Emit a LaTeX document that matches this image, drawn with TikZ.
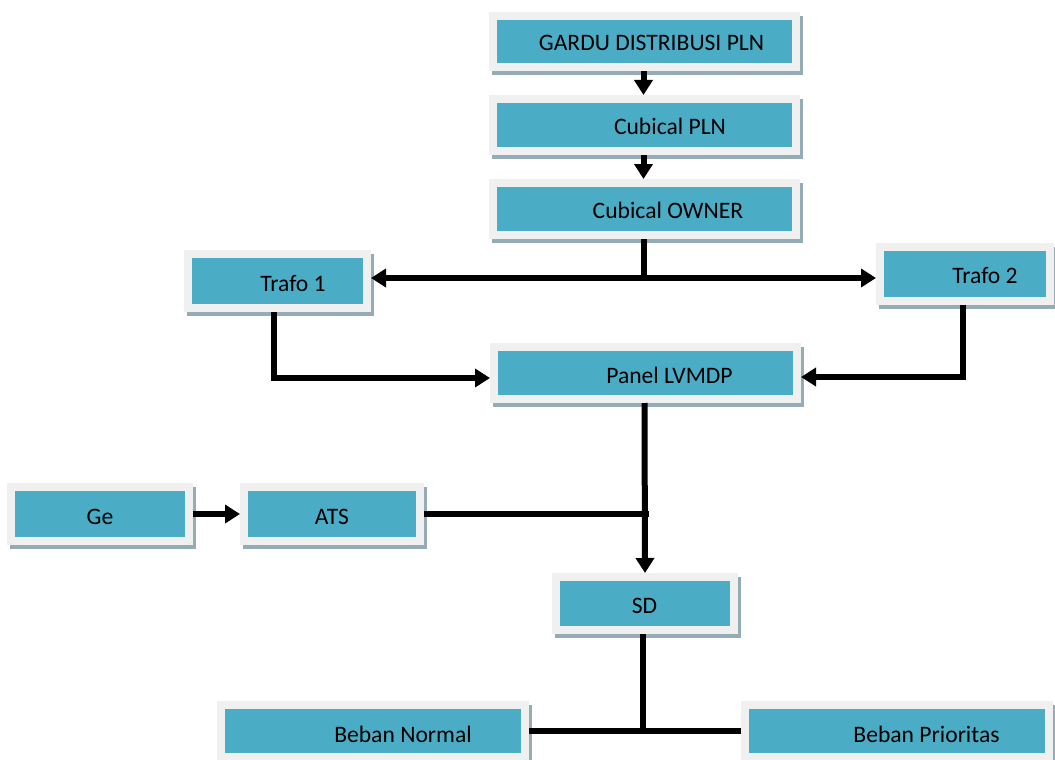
\documentclass[tikz,border=0pt]{standalone}
\usepackage{fontspec}
\setmainfont{Carlito}
\usetikzlibrary{arrows.meta}
\definecolor{tealbox}{HTML}{4AACC5}
\definecolor{framegray}{HTML}{F0F0F0}
\definecolor{shadowc}{HTML}{94ACB6}
\tikzset{
  box/.style={rectangle, inner sep=0pt, fill=tealbox, draw=framegray, line width=8pt,
    preaction={draw=shadowc, fill=shadowc, transform canvas={shift={(3pt,-4pt)}}}},
  lbl/.style={anchor=base, inner sep=0pt, font=\fontsize{23.6}{28}\selectfont, text=black},
  conn/.style={line width=6pt, draw=black},
  arr/.style={conn, -{Triangle[length=15pt,width=18pt]}},
  arrboth/.style={conn, {Triangle[length=15pt,width=18pt]}-{Triangle[length=15pt,width=18pt]}}
}
\begin{document}
\begin{tikzpicture}[x=1pt,y=-1pt]
\useasboundingbox (0,0) rectangle (1055,760);
% boxes
\node[box, minimum width=303pt, minimum height=51pt] (gardu) at (644.5,41.5) {};
\node[box, minimum width=303pt, minimum height=52pt] (cpln) at (644.5,125) {};
\node[box, minimum width=303pt, minimum height=52pt] (cown) at (644.5,209) {};
\node[box, minimum width=179pt, minimum height=54pt] (trafo1) at (277.5,281) {};
\node[box, minimum width=170pt, minimum height=54pt] (trafo2) at (965,274) {};
\node[box, minimum width=303pt, minimum height=52pt] (panel) at (645.5,373) {};
\node[box, minimum width=178pt, minimum height=54pt] (ge) at (100,514) {};
\node[box, minimum width=176pt, minimum height=54pt] (ats) at (332,514) {};
\node[box, minimum width=178pt, minimum height=53pt] (sd) at (645,603.5) {};
\node[box, minimum width=304pt, minimum height=52pt] (bnormal) at (373,731) {};
\node[box, minimum width=304pt, minimum height=52pt] (bprior) at (897,731) {};
% labels
\node[lbl] (gardu-t) at (651.5,50.5) {GARDU DISTRIBUSI PLN};
\node[lbl] (cpln-t) at (670,134) {Cubical PLN};
\node[lbl] (cown-t) at (668,218) {Cubical OWNER};
\node[lbl] (trafo1-t) at (293,291) {Trafo 1};
\node[lbl] (trafo2-t) at (985,283) {Trafo 2};
\node[lbl] (panel-t) at (669.5,383) {Panel LVMDP};
\node[lbl] (ge-t) at (100,524) {Ge};
\node[lbl] (ats-t) at (332,524) {ATS};
\node[lbl] (sd-t) at (644.5,613) {SD};
\node[lbl] (bnormal-t) at (403,742) {Beban Normal};
\node[lbl] (bprior-t) at (926.5,742) {Beban Prioritas};
% connectors
\draw[arr] ([xshift=-1pt]gardu.south) -- ([xshift=-1pt]cpln.north);
\draw[arr] ([xshift=-1pt]cpln.south) -- ([xshift=-1pt]cown.north);
\coordinate (j1) at ([xshift=-0.5pt]cown.south |- 0,278);
\draw[conn] ([xshift=-0.5pt]cown.south) -- ([yshift=-3pt]j1);
\draw[arrboth] (trafo1.east |- j1) -- (trafo2.west |- j1);
\draw[arr] ([xshift=-4pt]trafo1.south) |- ([yshift=-5pt]panel.west);
\draw[arr] ([xshift=-2pt]trafo2.south) |- ([yshift=-4pt]panel.east);
\draw[arr] ([xshift=-1pt]panel.south) -- (sd.north);
\draw[arr] (ge.east) -- (ats.west);
\coordinate (j2) at ([xshift=3pt]panel.south |- ats.east);
\draw[conn] (ats.east) -- (j2);
\coordinate (j3) at ([xshift=-2pt]sd.south |- bnormal.east);
\draw[conn] ([xshift=-2pt]sd.south) -- ([yshift=3pt]j3);
\draw[conn] (bnormal.east) -- (bprior.west);
\end{tikzpicture}
\end{document}
